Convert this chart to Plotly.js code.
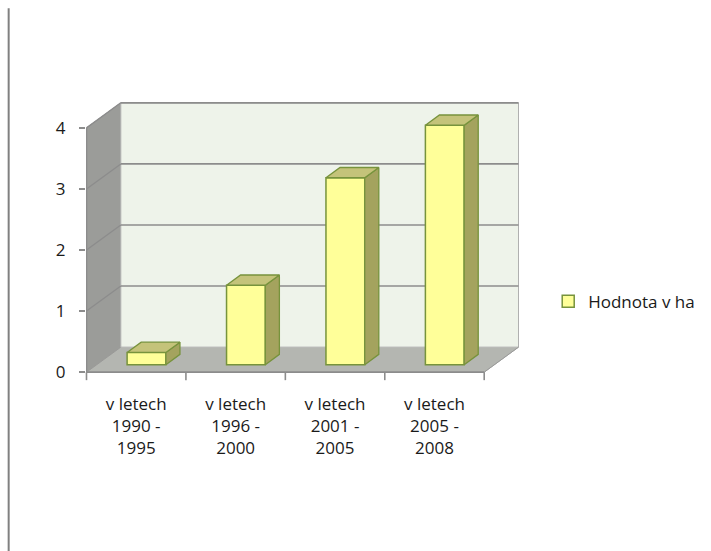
<!DOCTYPE html>
<html>
<head>
<meta charset="utf-8">
<script src="https://cdn.plot.ly/plotly-3.0.1.min.js"></script>
<style>html,body{margin:0;padding:0;background:#fff;}#chart{width:711px;height:551px;}</style>
</head>
<body>
<div id="chart"></div>
<script>
// ---- data ----
const categories = ['v letech<br>1990 -<br>1995', 'v letech<br>1996 -<br>2000', 'v letech<br>2001 -<br>2005', 'v letech<br>2005 -<br>2008'];
const values = [0.2, 1.3, 3.06, 3.92];
const seriesName = 'Hodnota v ha';
const yTicks = [0, 1, 2, 3, 4];

// ---- 3D look geometry (in axis units) ----
const DX = 0.345, DY = 0.41;   // depth offset of the back wall
const F0 = 0.3, F1 = 0.71;     // bar front/back depth fraction
const BW = 0.39;               // bar width
const YMAX = 4;
const PADY = 0.03;             // small range padding so edge lines are not clipped
const idx = categories.map((c, i) => i);
const xMin = -0.5, xMax = categories.length - 0.5;
const xR = [xMin - 0.005, xMax + DX + 0.005];
const yR = [-PADY, YMAX + DY + PADY];

const gridCol = '#8C8C8C';
const outline = '#77933C';

const base = F0 * DY;
const xs = idx.map(i => i + F0 * DX);
const ddx = (F1 - F0) * DX, ddy = (F1 - F0) * DY;

// side and top faces computed from values
const sideX = [], sideY = [], topX = [], topY = [];
values.forEach((v, i) => {
  const xl = xs[i] - BW / 2, xr = xs[i] + BW / 2, top = base + v;
  sideX.push(xr, xr + ddx, xr + ddx, xr, xr, null);
  sideY.push(base, base + ddy, top + ddy, top, base, null);
  topX.push(xl, xr, xr + ddx, xl + ddx, xl, null);
  topY.push(top, top, top + ddy, top + ddy, top, null);
});

const traces = [
  {type: 'bar', x: xs, y: values, base: base, width: BW, name: seriesName,
   marker: {color: '#FFFF99', line: {color: outline, width: 1.5}}, hoverinfo: 'y'},
  {type: 'scatter', mode: 'lines', x: sideX, y: sideY, fill: 'toself', fillcolor: '#A4A35E',
   line: {color: outline, width: 1.3}, showlegend: false, hoverinfo: 'skip'},
  {type: 'scatter', mode: 'lines', x: topX, y: topY, fill: 'toself', fillcolor: '#C4C37A',
   line: {color: outline, width: 1.3}, showlegend: false, hoverinfo: 'skip'}
];

const shapes = [];
const ln = (x0, y0, x1, y1, col, w) => shapes.push({type: 'line', xref: 'x', yref: 'y', x0, y0, x1, y1, layer: 'below', line: {color: col, width: w}});
// floor
shapes.push({type: 'path', xref: 'x', yref: 'y', layer: 'below',
  path: `M${xMin},0 L${xMax},0 L${xMax + DX},${DY} L${xMin + DX},${DY} Z`,
  fillcolor: '#B4B6B1', line: {color: '#B0B2AD', width: 1}});
// left wall
shapes.push({type: 'path', xref: 'x', yref: 'y', layer: 'below',
  path: `M${xMin},0 L${xMin + DX},${DY} L${xMin + DX},${YMAX + DY} L${xMin},${YMAX} Z`,
  fillcolor: '#9B9C99', line: {color: '#9A9A98', width: 1}});
// back wall
shapes.push({type: 'rect', xref: 'x', yref: 'y', layer: 'below',
  x0: xMin + DX, x1: xMax + DX, y0: DY, y1: YMAX + DY,
  fillcolor: '#EEF3EA', line: {color: '#B0B0B0', width: 1}});
// gridlines
yTicks.slice(1).forEach(k => {
  ln(xMin + DX, k + DY, xMax + DX, k + DY, gridCol, 1.6);
  ln(xMin, k, xMin + DX, k + DY, gridCol, 1.3);
});
// edges
ln(xMin, 0, xMax, 0, gridCol, 1.6);
ln(xMin, 0, xMin, YMAX, gridCol, 1.6);
ln(xMax, 0, xMax + DX, DY, '#9A9A9A', 1);
// category boundary ticks (paper coords so they are not clipped)
const toPX = v => (v - xR[0]) / (xR[1] - xR[0]);
const toPY = v => (v - yR[0]) / (yR[1] - yR[0]);
for (let b = xMin; b <= xMax + 1e-9; b += 1) {
  shapes.push({type: 'line', xref: 'paper', yref: 'paper', ysizemode: 'pixel', yanchor: toPY(0),
    x0: toPX(b), x1: toPX(b), y0: 0, y1: -8, line: {color: gridCol, width: 1.6}});
}
// page border line on the left
shapes.push({type: 'line', xref: 'paper', yref: 'paper', x0: -0.1786, x1: -0.1786, y0: -0.66, y1: 1.34,
  line: {color: '#808080', width: 2}});

const font = {family: 'Open Sans, sans-serif', size: 17, color: '#1a1a1a'};

const layout = {
  width: 711, height: 551,
  margin: {l: 85.5, r: 190.5, t: 100.5, b: 176.5, pad: 0},
  paper_bgcolor: '#ffffff', plot_bgcolor: 'rgba(0,0,0,0)',
  font: font,
  showlegend: true,
  legend: {x: 1.065, xanchor: 'left', y: 0.265, yanchor: 'middle', font: font, bgcolor: 'rgba(0,0,0,0)'},
  xaxis: {range: xR, tickvals: idx, ticktext: categories, ticks: '',
    showgrid: false, zeroline: false, showline: false, fixedrange: true, tickfont: font, ticklabelstandoff: 18},
  yaxis: {range: yR, tickvals: yTicks, ticks: 'outside', ticklen: 6, tickcolor: gridCol, tickwidth: 1.6,
    showgrid: false, zeroline: false, showline: false, fixedrange: true, tickfont: font, ticklabelstandoff: 10},
  shapes: shapes,
  bargap: 0
};

Plotly.newPlot('chart', traces, layout, {staticPlot: true, displayModeBar: false});
</script>
</body>
</html>
